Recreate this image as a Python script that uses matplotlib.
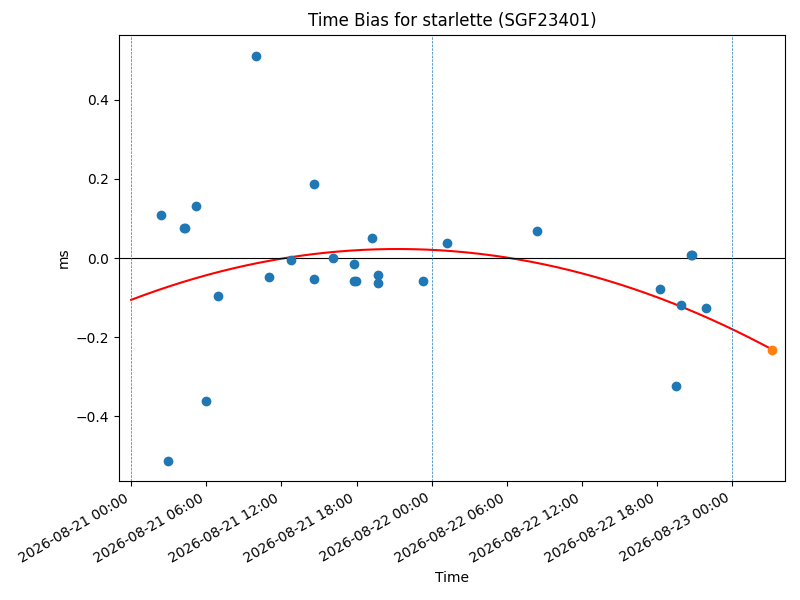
import matplotlib
matplotlib.use("Agg")
import matplotlib.pyplot as plt
import matplotlib.dates as mdates
import numpy as np
import pandas as pd


SATELLITE = "starlette (SGF23401)"

# measured time bias per pass (ms)
obs_times = [
    "2026-08-21 02:25", "2026-08-21 02:59", "2026-08-21 04:12", "2026-08-21 04:18",
    "2026-08-21 05:12", "2026-08-21 06:00", "2026-08-21 06:57", "2026-08-21 09:59",
    "2026-08-21 11:03", "2026-08-21 12:48", "2026-08-21 14:34", "2026-08-21 14:34",
    "2026-08-21 16:05", "2026-08-21 17:46", "2026-08-21 17:48", "2026-08-21 17:58",
    "2026-08-21 19:12", "2026-08-21 19:45", "2026-08-21 19:45", "2026-08-21 23:18",
    "2026-08-22 01:12", "2026-08-22 08:27", "2026-08-22 18:12", "2026-08-22 19:30",
    "2026-08-22 19:57", "2026-08-22 20:42", "2026-08-22 20:48", "2026-08-22 21:54",
]
obs_bias = [
    0.108, -0.515, 0.075, 0.075,
    0.132, -0.363, -0.097, 0.511,
    -0.049, -0.006, 0.187, -0.054,
    -0.001, -0.016, -0.058, -0.058,
    0.050, -0.043, -0.064, -0.058,
    0.037, 0.068, -0.079, -0.325,
    -0.120, 0.007, 0.007, -0.127,
]

# quadratic fit, hours since fit_start -> ms (highest power first)
fit_coef = [-2.843e-4, 0.01210, -0.106]
fit_start = "2026-08-21 00:00"
pred_time = "2026-08-23 03:12"
day_marks = ["2026-08-21", "2026-08-22", "2026-08-23"]


def hours_since(t, ref):
    """hours between a time and the reference time"""
    return (pd.Timestamp(t) - pd.Timestamp(ref)) / pd.Timedelta(hours=1)


t_obs = pd.to_datetime(obs_times)

h_pred = hours_since(pred_time, fit_start)
h_fit = np.linspace(0, h_pred, 200)
t_fit = pd.Timestamp(fit_start) + pd.to_timedelta(h_fit, unit="h")
pred_bias = np.polyval(fit_coef, h_pred)

fig, ax = plt.subplots(figsize=(8, 6), dpi=100)
ax.scatter(t_obs, obs_bias, color="C0", zorder=3)
ax.plot(t_fit, np.polyval(fit_coef, h_fit), color="red")
ax.scatter([pd.Timestamp(pred_time)], [pred_bias], color="C1", zorder=3)
ax.axhline(0, color="black", linewidth=0.8)
for d in day_marks:
    ax.axvline(pd.Timestamp(d), color="C0", linestyle="--", linewidth=0.5)

ax.set_xlim(pd.Timestamp("2026-08-20 23:03"), pd.Timestamp("2026-08-23 04:12"))
ax.set_ylim(-0.565, 0.565)
ax.xaxis.set_major_locator(mdates.HourLocator(byhour=[0, 6, 12, 18]))
ax.xaxis.set_major_formatter(mdates.DateFormatter("%Y-%m-%d %H:%M"))
fig.autofmt_xdate()
ax.set_title("Time Bias for " + SATELLITE)
ax.set_xlabel("Time")
ax.set_ylabel("ms")
fig.subplots_adjust(left=0.149, right=0.981, top=0.942, bottom=0.198)
fig.savefig("out.png")
